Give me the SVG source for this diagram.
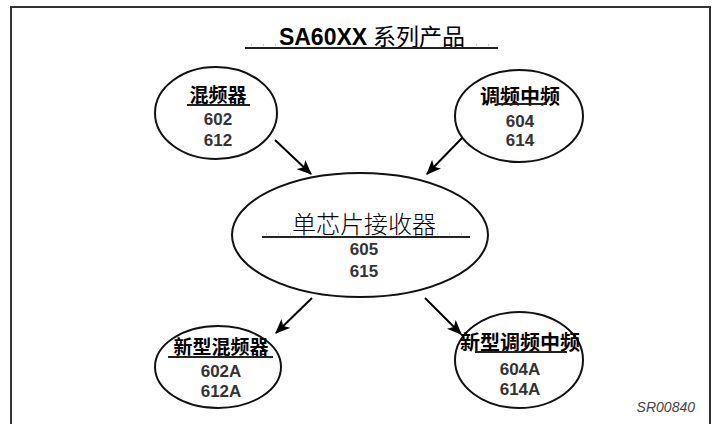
<svg xmlns="http://www.w3.org/2000/svg" width="717" height="424" viewBox="0 0 717 424">
<style>
.el{fill:#fff;stroke:#111;stroke-width:2}
.cj{font-family:"Noto Sans CJK SC","Noto Sans",sans-serif;font-weight:bold;fill:#000;text-anchor:middle}
.num{font-family:"Liberation Sans",Arial,sans-serif;font-weight:bold;font-size:17px;fill:#333;text-anchor:middle}
.ul{stroke:#222;stroke-width:2}
.dots{stroke:#999;stroke-width:1;stroke-dasharray:1 11}
.con{stroke:#000;stroke-width:2;fill:none}
</style>
<defs>
<marker id="ah" viewBox="0 0 12 10" refX="11" refY="5" markerWidth="7.5" markerHeight="6.5" orient="auto" markerUnits="strokeWidth">
<path d="M0,0 L12,5 L0,10 L3,5 Z" fill="#000"/>
</marker>
</defs>
<rect width="717" height="424" fill="#fff"/>
<path d="M11,430 V7 H710 V430" fill="none" stroke="#333" stroke-width="2"/>
<g id="title">
<text x="372" y="45" font-family="Liberation Sans,Arial,sans-serif" font-size="23" font-weight="bold" text-anchor="middle"><tspan>SA60XX</tspan><tspan font-family="Noto Sans CJK SC,sans-serif" font-weight="normal" dx="6">系列产品</tspan></text>
<line class="ul" x1="245" y1="48" x2="498" y2="48"/>
<line class="dots" x1="251" y1="45" x2="280" y2="45"/>
<line class="dots" x1="476" y1="45" x2="495" y2="45"/>
</g>
<g id="connectors">
<line class="con" x1="275" y1="140" x2="311" y2="174" marker-end="url(#ah)"/>
<line class="con" x1="462" y1="138" x2="427" y2="174" marker-end="url(#ah)"/>
<line class="con" x1="312" y1="298" x2="276" y2="333" marker-end="url(#ah)"/>
<line class="con" x1="425" y1="298" x2="461" y2="334" marker-end="url(#ah)"/>
</g>
<g id="mixer">
<ellipse class="el" cx="216" cy="113" rx="61" ry="46"/>
<text class="cj" x="218" y="102" font-size="19">混频器</text>
<line class="ul" x1="187" y1="105" x2="250" y2="105"/>
<text class="num" x="218" y="125">602</text>
<text class="num" x="218" y="146">612</text>
</g>
<g id="if">
<ellipse class="el" cx="519" cy="116" rx="64" ry="46"/>
<text class="cj" x="520" y="104" font-size="20">调频中频</text>
<line class="ul" x1="497" y1="104" x2="547" y2="104"/>
<text class="num" x="520" y="127">604</text>
<text class="num" x="520" y="146">614</text>
</g>
<g id="receiver">
<ellipse class="el" cx="360" cy="235" rx="128" ry="62"/>
<text x="364" y="233" font-family="Noto Sans CJK SC,sans-serif" font-size="24" font-weight="300" text-anchor="middle" fill="#000">单芯片接收器</text>
<line class="ul" x1="262" y1="237" x2="470" y2="237"/>
<line class="dots" x1="266" y1="234" x2="295" y2="234"/>
<line class="dots" x1="437" y1="234" x2="468" y2="234"/>
<text class="num" x="364" y="255">605</text>
<text class="num" x="364" y="277">615</text>
</g>
<g id="newmixer">
<ellipse class="el" cx="218" cy="367" rx="63" ry="41"/>
<text class="cj" x="221" y="354" font-size="19">新型混频器</text>
<line class="ul" x1="168" y1="357" x2="273" y2="357"/>
<text class="num" x="221" y="377">602A</text>
<text class="num" x="221" y="397">612A</text>
</g>
<g id="newif">
<ellipse class="el" cx="519" cy="360" rx="64" ry="48"/>
<text class="cj" x="520" y="350" font-size="20">新型调频中频</text>
<line class="ul" x1="475" y1="352" x2="567" y2="352"/>
<text class="num" x="520" y="375">604A</text>
<text class="num" x="520" y="395">614A</text>
</g>
<text x="695" y="412" font-family="Liberation Sans,Arial,sans-serif" font-size="14" font-style="italic" fill="#444" text-anchor="end">SR00840</text>
</svg>
